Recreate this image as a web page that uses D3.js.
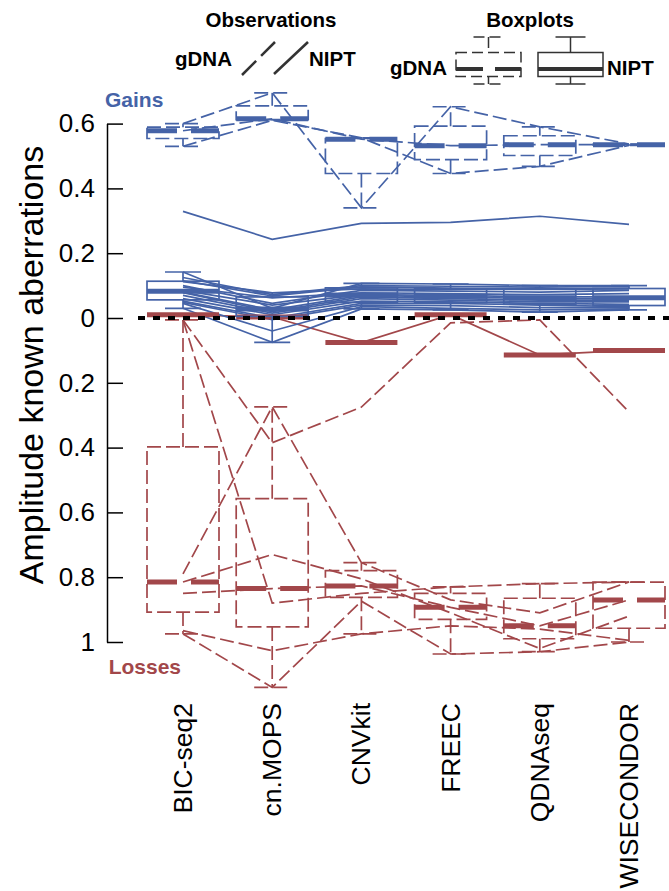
<!DOCTYPE html>
<html>
<head>
<meta charset="utf-8">
<script src="https://cdn.jsdelivr.net/npm/d3@7"></script>
<style>
  body { margin: 0; background: #fff; }
  text { font-family: "Liberation Sans", Arial, sans-serif; }
</style>
</head>
<body>
<div id="chart"></div>
<script>
// Méthodes (catégories de l'axe x)
const methods = ["BIC-seq2", "cn.MOPS", "CNVkit", "FREEC", "QDNAseq", "WISECONDOR"];
// Graduations de l'axe y (gains positifs en haut, pertes en bas)
const yTicks = [0.6, 0.4, 0.2, 0, -0.2, -0.4, -0.6, -0.8, -1];

// Gains, gDNA : un tableau par échantillon, une valeur par méthode
const gainGdna = [
  [0.600, 0.695, 0.340, 0.652, 0.590, 0.537],
  [0.530, 0.610, 0.556, 0.446, 0.468, 0.533],
  [0.578, 0.615, 0.552, 0.532, 0.535, 0.535],
];
// Gains, NIPT
const gainNipt = [
  [0.142, 0.030, 0.107, 0.105, 0.100, 0.100],
  [0.125, 0.072, 0.100, 0.098, 0.095, 0.098],
  [0.115, 0.068, 0.096, 0.092, 0.090, 0.092],
  [0.112, 0.078, 0.090, 0.088, 0.088, 0.090],
  [0.100, 0.045, 0.085, 0.083, 0.080, 0.085],
  [0.095, 0.062, 0.078, 0.075, 0.072, 0.075],
  [0.085, 0.040, 0.072, 0.070, 0.065, 0.065],
  [0.080, 0.025, 0.070, 0.065, 0.060, 0.060],
  [0.078, 0.020, 0.065, 0.060, 0.055, 0.055],
  [0.070, 0.015, 0.060, 0.055, 0.050, 0.050],
  [0.060, 0.010, 0.052, 0.050, 0.045, 0.042],
  [0.052, 0.000, 0.045, 0.045, 0.040, 0.035],
  [0.048, -0.005, 0.040, 0.038, 0.032, 0.032],
  [0.045, -0.040, 0.035, 0.030, 0.025, 0.028],
  [0.030, -0.075, 0.028, 0.025, 0.018, 0.025],
  [0.329, 0.243, 0.292, 0.295, 0.314, 0.289],
];
// Pertes, gDNA
const lossGdna = [
  [0.006, 0.385, 0.275, 0.015, 0.006, 0.290],
  [0.006, 0.880, 0.850, 0.830, 0.820, 0.815],
  [0.790, 0.274, 0.755, 0.870, 0.910, 0.815],
  [0.850, 0.835, 0.827, 0.893, 0.950, 0.870],
  [0.815, 0.730, 0.805, 0.910, 1.020, 0.920],
  [0.965, 1.027, 0.975, 0.950, 0.960, 0.995],
  [0.975, 1.140, 0.874, 1.037, 1.030, 1.000],
];
// Pertes, NIPT
const lossNipt = [
  [-0.010, -0.003, 0.076, -0.010, 0.114, 0.100],
];

const width = 669, height = 891;
const blue = "#4563a7", red = "#a2474a";

const svg = d3.select("#chart").append("svg")
  .attr("width", width).attr("height", height);

const x = d3.scalePoint().domain(methods).range([183, 629]);
const y = d3.scaleLinear().domain([-1, 0.6]).range([642, 123.6]);

// fivenum de R (charnières de Tukey)
function fivenum(v) {
  const s = v.slice().sort(d3.ascending), n = s.length;
  const n4 = Math.floor((n + 3) / 2) / 2;
  return [1, n4, (n + 1) / 2, n + 1 - n4, n]
    .map(i => 0.5 * (s[Math.floor(i) - 1] + s[Math.ceil(i) - 1]));
}

const lineDash = "14,5", medDash = "30,14";

function drawLines(data, sign, color, dashed) {
  const line = d3.line()
    .x((d, i) => x(methods[i]))
    .y(d => y(sign * d));
  svg.append("g").selectAll("path").data(data).join("path")
    .attr("d", line)
    .attr("fill", "none")
    .attr("stroke", color)
    .attr("stroke-width", 1.7)
    .attr("stroke-dasharray", dashed ? lineDash : null);
}

function drawBox(vals, xc, sign, color, dashed) {
  const [, q1, med, q3] = fivenum(vals);
  const iqr = q3 - q1;
  const lo = d3.min(vals.filter(v => v >= q1 - 1.5 * iqr));
  const hi = d3.max(vals.filter(v => v <= q3 + 1.5 * iqr));
  const yy = v => y(sign * v);
  const g = svg.append("g")
    .attr("stroke", color).attr("fill", "none")
    .attr("stroke-width", 1.7)
    .attr("stroke-dasharray", dashed ? lineDash : null);
  const hw = 36, cw = 18;
  g.append("rect")
    .attr("x", xc - hw).attr("width", 2 * hw)
    .attr("y", Math.min(yy(q1), yy(q3)))
    .attr("height", Math.abs(yy(q1) - yy(q3)));
  [[q3, hi], [q1, lo]].forEach(([a, b]) => {
    g.append("line").attr("x1", xc).attr("x2", xc)
      .attr("y1", yy(a)).attr("y2", yy(b));
    g.append("line").attr("x1", xc - cw).attr("x2", xc + cw)
      .attr("y1", yy(b)).attr("y2", yy(b));
  });
  g.append("line")
    .attr("x1", xc - hw).attr("x2", xc + hw)
    .attr("y1", yy(med)).attr("y2", yy(med))
    .attr("stroke-width", 5)
    .attr("stroke-dasharray", dashed ? medDash : null);
}

// Observations
drawLines(lossGdna, -1, red, true);
drawLines(lossNipt, -1, red, false);
drawLines(gainGdna, 1, blue, true);
drawLines(gainNipt, 1, blue, false);

// Boxplots par méthode
methods.forEach((m, i) => {
  const col = arr => arr.map(s => s[i]);
  drawBox(col(lossGdna), x(m), -1, red, true);
  drawBox(col(lossNipt), x(m), -1, red, false);
  drawBox(col(gainGdna), x(m), 1, blue, true);
  drawBox(col(gainNipt), x(m), 1, blue, false);
});

// Ligne zéro en pointillés
svg.append("line")
  .attr("x1", 138).attr("x2", width)
  .attr("y1", y(0)).attr("y2", y(0))
  .attr("stroke", "#000").attr("stroke-width", 4)
  .attr("stroke-dasharray", "7,8");

// Axe y
const yAxis = d3.axisLeft(y)
  .tickValues(yTicks)
  .tickFormat(d => d3.format("~g")(Math.abs(d)))
  .tickSizeInner(-16).tickSizeOuter(0).tickPadding(28);
const ga = svg.append("g").attr("transform", "translate(107,0)").call(yAxis);
ga.select(".domain").attr("stroke", "#000").attr("stroke-width", 1.5);
ga.selectAll(".tick line").attr("stroke", "#000").attr("stroke-width", 1.5);
ga.selectAll(".tick text")
  .attr("font-size", 26).attr("fill", "#000")
  .attr("font-family", "Liberation Sans, Arial, sans-serif")
  .attr("x", -12);

svg.append("text")
  .attr("transform", "translate(43,365) rotate(-90)")
  .attr("text-anchor", "middle")
  .attr("font-size", 34)
  .text("Amplitude known aberrations");

// Étiquettes des méthodes
svg.append("g").selectAll("text").data(methods).join("text")
  .attr("transform", d => `translate(${x(d) + 9},703) rotate(-90)`)
  .attr("text-anchor", "end")
  .attr("font-size", 26.5)
  .text(d => d);

svg.append("text").attr("x", 105).attr("y", 107)
  .attr("font-size", 21).attr("font-weight", "bold").attr("fill", blue)
  .text("Gains");
svg.append("text").attr("x", 181).attr("y", 674).attr("text-anchor", "end")
  .attr("font-size", 21).attr("font-weight", "bold").attr("fill", red)
  .text("Losses");

// Légende
const leg = svg.append("g").attr("font-weight", "bold").attr("font-size", 20.5);
leg.append("text").attr("x", 271).attr("y", 27).attr("text-anchor", "middle").text("Observations");
leg.append("text").attr("x", 530).attr("y", 27).attr("text-anchor", "middle").text("Boxplots");
leg.append("text").attr("x", 175).attr("y", 66).text("gDNA");
leg.append("text").attr("x", 309).attr("y", 66).text("NIPT");
leg.append("text").attr("x", 390).attr("y", 75).text("gDNA");
leg.append("text").attr("x", 607).attr("y", 75).text("NIPT");

const legCol = "#333";
svg.append("line").attr("x1", 242).attr("y1", 75).attr("x2", 275).attr("y2", 42)
  .attr("stroke", legCol).attr("stroke-width", 2.5).attr("stroke-dasharray", "20,7");
svg.append("line").attr("x1", 274).attr("y1", 74).attr("x2", 308).attr("y2", 42)
  .attr("stroke", legCol).attr("stroke-width", 2.5);

function legendBox(xc, dashed) {
  const g = svg.append("g").attr("stroke", legCol).attr("fill", "none")
    .attr("stroke-width", 1.5).attr("stroke-dasharray", dashed ? "11,5" : null);
  g.append("rect").attr("x", xc - 32.5).attr("y", 52.5).attr("width", 65).attr("height", 24);
  g.append("line").attr("x1", xc).attr("x2", xc).attr("y1", 37).attr("y2", 52.5);
  g.append("line").attr("x1", xc).attr("x2", xc).attr("y1", 76.5).attr("y2", 84);
  g.append("line").attr("x1", xc - 15).attr("x2", xc + 15).attr("y1", 37).attr("y2", 37);
  g.append("line").attr("x1", xc - 15).attr("x2", xc + 15).attr("y1", 84).attr("y2", 84);
  g.append("line").attr("x1", xc - 32.5).attr("x2", xc + 32.5).attr("y1", 69).attr("y2", 69)
    .attr("stroke-width", 4).attr("stroke-dasharray", dashed ? "27,12" : null);
}
legendBox(488.5, true);
legendBox(570.5, false);
</script>
</body>
</html>
